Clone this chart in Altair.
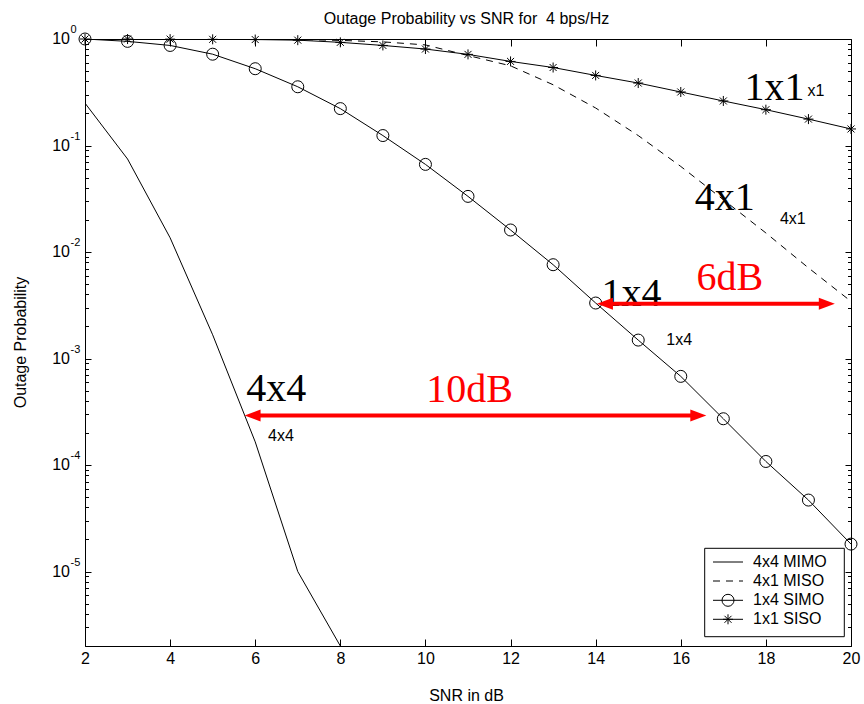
import altair as alt
import pandas as pd

# ---------------- data ----------------
snr = list(range(2, 21))
snr_mimo = [2, 3, 4, 5, 6, 7, 8]
p_mimo = [0.25, 0.0747, 0.0136, 0.00167, 1.65e-4, 1.0e-5, 2.0e-6]
p_miso = [1.0, 1.0, 1.0, 0.999, 0.995, 0.99, 0.97, 0.94, 0.88, 0.70, 0.56,
          0.372, 0.225, 0.124, 0.0636, 0.031, 0.0151, 0.0071, 0.00344]
p_simo = [1.0, 0.95, 0.87, 0.72, 0.526, 0.356, 0.222, 0.124, 0.0665, 0.0333,
          0.0161, 0.0076, 0.00332, 0.00149, 6.8e-4, 2.72e-4, 1.08e-4, 4.69e-5, 1.81e-5]
p_siso = [1.0, 0.999, 0.997, 0.993, 0.988, 0.975, 0.93, 0.87, 0.805, 0.717,
          0.616, 0.54, 0.455, 0.386, 0.318, 0.262, 0.217, 0.177, 0.143]
series_names = ["4x4 MIMO", "4x1 MISO", "1x4 SIMO", "1x1 SISO"]

# annotations
big_labels = ["1x1", "4x1", "1x4", "4x4"]
big_x = [17.50, 16.33, 14.14, 5.79]
big_y = [0.269, 0.0249, 0.00308, 3.95e-4]
small_labels = ["x1", "4x1", "1x4", "4x4"]
small_x = [18.98, 18.33, 15.66, 6.30]
small_y = [0.289, 0.0183, 0.00135, 1.67e-4]
gain_labels = ["6dB", "10dB"]
gain_x = [16.37, 10.02]
gain_y = [0.00443, 3.87e-4]
arrow_x1 = [14.03, 5.75]
arrow_x2 = [19.62, 16.60]
arrow_y = [3.27e-3, 2.92e-4]

x_ticks = [2, 4, 6, 8, 10, 12, 14, 16, 18, 20]
y_major = [1e-5, 1e-4, 1e-3, 1e-2, 1e-1, 1.0]
y_exp = ["-5", "-4", "-3", "-2", "-1", "0"]
y_minor = [m * 10.0 ** e for e in range(-6, 0) for m in range(2, 10)
           if m * 10.0 ** e >= 2e-6]

title_text = "Outage Probability vs SNR for\u00a0 4 bps/Hz"
x_title = "SNR in dB"
y_title = "Outage Probability"

# ---------------- styling ----------------
SANS = "Liberation Sans"
SERIF = "Liberation Serif"
W, H = 766, 607
STAR = "M0,-1L0,1M-1,0L1,0M-0.7,-0.7L0.7,0.7M-0.7,0.7L0.7,-0.7"
HEAD_R = "M0,0L-2,-0.75L-2,0.75Z"
HEAD_L = "M0,0L2,-0.75L2,0.75Z"

xs = alt.Scale(domain=[2, 20], nice=False, zero=False)
ys = alt.Scale(type="log", domain=[2e-6, 1], nice=False)


def X(field, axis=None):
    return alt.X(field, type="quantitative", scale=xs, axis=axis)


def Y(field, axis=None):
    return alt.Y(field, type="quantitative", scale=ys, axis=axis)


def tick_axis(orient, values, size):
    return alt.Axis(orient=orient, values=values, labels=False, domain=False,
                    grid=False, ticks=True, tickSize=size, tickColor="black",
                    tickWidth=1, offset=-size, title=None)


ax_bottom = alt.Axis(orient="bottom", values=x_ticks, format="d", labelFont=SANS,
                     labelFontSize=16, labelColor="black", labelPadding=4,
                     labelFlush=False, labelOverlap=False, tickSize=7,
                     tickColor="black", tickWidth=1, offset=-7, domain=False,
                     grid=False, title=None)

df_mimo = pd.DataFrame({"snr": snr_mimo, "p": p_mimo})
df_miso = pd.DataFrame({"snr": snr, "p": p_miso})
df_simo = pd.DataFrame({"snr": snr, "p": p_simo})
df_siso = pd.DataFrame({"snr": snr, "p": p_siso})

layers = []
layers.append(alt.Chart(df_mimo).mark_line(color="black", strokeWidth=1, clip=True).encode(
    x=X("snr", ax_bottom), y=Y("p", tick_axis("left", y_major, 6))))
layers.append(alt.Chart(df_miso).mark_line(color="black", strokeWidth=1, strokeDash=[7, 6], clip=True).encode(
    x=X("snr", tick_axis("top", x_ticks, 7)), y=Y("p", tick_axis("right", y_major, 6))))
layers.append(alt.Chart(df_simo).mark_line(color="black", strokeWidth=1, clip=True).encode(
    x=X("snr"), y=Y("p", tick_axis("left", y_minor, 3.5))))
layers.append(alt.Chart(df_simo).mark_point(shape="circle", size=144, filled=False, color="black",
                                            strokeWidth=1, opacity=1).encode(
    x=X("snr"), y=Y("p", tick_axis("right", y_minor, 3.5))))
layers.append(alt.Chart(df_siso).mark_line(color="black", strokeWidth=1, clip=True).encode(
    x=X("snr"), y=Y("p")))
layers.append(alt.Chart(df_siso).mark_point(shape=STAR, size=100, filled=False, color="black",
                                            strokeWidth=1, opacity=1).encode(
    x=X("snr"), y=Y("p")))

# y tick labels 10^k
df_ylab = pd.DataFrame({"v": y_major, "e": y_exp})
layers.append(alt.Chart(df_ylab).mark_text(font=SANS, fontSize=16, align="right", baseline="middle",
                                           color="black", text="10").encode(
    x=alt.value(-15), y=Y("v")))
layers.append(alt.Chart(df_ylab).mark_text(font=SANS, fontSize=11, align="left", baseline="middle",
                                           color="black", dy=-9).encode(
    x=alt.value(-14.5), y=Y("v"), text="e:N"))

# annotations
df_big = pd.DataFrame({"x": big_x, "y": big_y, "t": big_labels})
df_small = pd.DataFrame({"x": small_x, "y": small_y, "t": small_labels})
df_gain = pd.DataFrame({"x": gain_x, "y": gain_y, "t": gain_labels})
df_arrow = pd.DataFrame({"x1": arrow_x1, "x2": arrow_x2, "y": arrow_y})

layers.append(alt.Chart(df_small).mark_text(font=SANS, fontSize=16, align="left",
                                            baseline="alphabetic", color="black").encode(
    x=X("x"), y=Y("y"), text="t:N"))
layers.append(alt.Chart(df_big).mark_text(font=SERIF, fontSize=40, align="left",
                                          baseline="alphabetic", color="black").encode(
    x=X("x"), y=Y("y"), text="t:N"))
layers.append(alt.Chart(df_gain).mark_text(font=SERIF, fontSize=40, align="left",
                                           baseline="alphabetic", color="#ff0000").encode(
    x=X("x"), y=Y("y"), text="t:N"))
layers.append(alt.Chart(df_arrow).mark_rule(color="#ff0000", strokeWidth=4, xOffset=12, x2Offset=-12).encode(
    x=X("x1"), x2="x2", y=Y("y")))
layers.append(alt.Chart(df_arrow).mark_point(shape=HEAD_R, size=256, filled=True, color="#ff0000",
                                             strokeWidth=0, opacity=1).encode(
    x=X("x2"), y=Y("y")))
layers.append(alt.Chart(df_arrow).mark_point(shape=HEAD_L, size=256, filled=True, color="#ff0000",
                                             strokeWidth=0, opacity=1).encode(
    x=X("x1"), y=Y("y")))

# legend (drawn by hand to show line + marker samples)
one = pd.DataFrame({"k": [0]})
layers.append(alt.Chart(one).mark_rect(fill="white", stroke="black", strokeWidth=1).encode(
    x=alt.value(619.7), x2=alt.value(759.3), y=alt.value(509.3), y2=alt.value(597.7)))
row_y = [523, 542, 561.3, 580.3]
dashes = [None, [7, 6], None, None]
markers = [None, None, "circle", STAR]
msizes = [0, 0, 144, 100]
for i, name in enumerate(series_names):
    kw = {"strokeDash": dashes[i]} if dashes[i] else {}
    layers.append(alt.Chart(one).mark_rule(color="black", strokeWidth=1, **kw).encode(
        x=alt.value(628), x2=alt.value(658), y=alt.value(row_y[i])))
    if markers[i]:
        layers.append(alt.Chart(one).mark_point(shape=markers[i], size=msizes[i], filled=False,
                                                color="black", strokeWidth=1, opacity=1).encode(
            x=alt.value(643), y=alt.value(row_y[i])))
    layers.append(alt.Chart(one).mark_text(font=SANS, fontSize=16, align="left", baseline="middle",
                                           color="black", text=name).encode(
        x=alt.value(668), y=alt.value(row_y[i])))

# titles
layers.append(alt.Chart(one).mark_text(font=SANS, fontSize=16, align="center", baseline="alphabetic",
                                       color="black", text=title_text).encode(
    x=alt.value(381.5), y=alt.value(-14.7)))
layers.append(alt.Chart(one).mark_text(font=SANS, fontSize=16, align="center", baseline="alphabetic",
                                       color="black", text=x_title).encode(
    x=alt.value(381.5), y=alt.value(662.4)))
layers.append(alt.Chart(one).mark_text(font=SANS, fontSize=16, align="center", baseline="alphabetic",
                                       color="black", angle=270, text=y_title).encode(
    x=alt.value(-58.6), y=alt.value(303.5)))

chart = alt.layer(*layers).resolve_axis(x="independent", y="independent").properties(
    width=W, height=H,
    padding={"left": 85, "top": 39, "right": 13, "bottom": 58},
    autosize=alt.AutoSizeParams(type="none"),
    background="white",
).configure_view(stroke="black", strokeWidth=1)

chart.save("out.html", embed_options={"renderer": "svg", "actions": False})
